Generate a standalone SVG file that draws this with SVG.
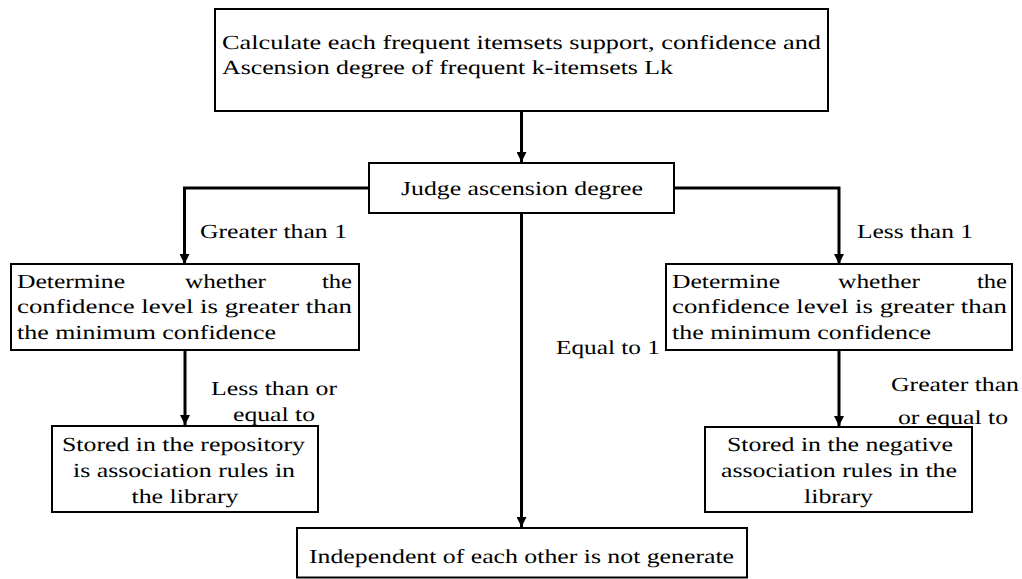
<svg xmlns="http://www.w3.org/2000/svg" width="1022" height="579" viewBox="0 0 1022 579">
<style>
.box{fill:#fff;stroke:#000;stroke-width:2}
.t{font-family:'Liberation Serif','Times New Roman',Times,serif;font-size:20px;fill:#000;text-rendering:geometricPrecision}
.c{fill:none;stroke:#000;stroke-width:3}
</style>
<defs>
<marker id="ah" markerUnits="userSpaceOnUse" markerWidth="12" markerHeight="10" viewBox="0 0 12 10" refX="10" refY="5" orient="auto">
<path d="M0,0 L10,5 L0,10 Z" fill="#000"/>
</marker>
</defs>
<rect width="1022" height="579" fill="#fff"/>
<g id="connectors">
<path class="c" d="M521.5,111 V162" marker-end="url(#ah)"/>
<path class="c" d="M369,188 H184.5 V264" marker-end="url(#ah)"/>
<path class="c" d="M674,188 H839 V264" marker-end="url(#ah)"/>
<path class="c" d="M521.5,213 V527" marker-end="url(#ah)"/>
<path class="c" d="M185,350 V425" marker-end="url(#ah)"/>
<path class="c" d="M839,350 V426" marker-end="url(#ah)"/>
</g>
<g id="labels">
<text class="t" x="200" y="238" textLength="147" lengthAdjust="spacingAndGlyphs">Greater than 1</text>
<text class="t" x="857" y="238" textLength="116" lengthAdjust="spacingAndGlyphs">Less than 1</text>
<text class="t" x="556" y="354" textLength="104" lengthAdjust="spacingAndGlyphs">Equal to 1</text>
<text class="t" x="211" y="395" textLength="126" lengthAdjust="spacingAndGlyphs">Less than or</text>
<text class="t" x="233" y="421" textLength="82" lengthAdjust="spacingAndGlyphs">equal to</text>
<text class="t" x="891" y="391" textLength="128" lengthAdjust="spacingAndGlyphs">Greater than</text>
<text class="t" x="898" y="424" textLength="110" lengthAdjust="spacingAndGlyphs">or equal to</text>
</g>
<g id="n-top">
<rect class="box" x="215" y="9" width="613" height="102"/>
<text class="t" x="222" y="48.5" textLength="599" lengthAdjust="spacingAndGlyphs">Calculate each frequent itemsets support, confidence and</text>
<text class="t" x="222" y="74" textLength="451" lengthAdjust="spacingAndGlyphs">Ascension degree of frequent k-itemsets Lk</text>
</g>
<g id="n-judge">
<rect class="box" x="369" y="163" width="305" height="50"/>
<text class="t" x="401" y="195" textLength="242" lengthAdjust="spacingAndGlyphs">Judge ascension degree</text>
</g>
<g id="n-left">
<rect class="box" x="11" y="264" width="348" height="86"/>
<text class="t" x="17" y="288" textLength="108" lengthAdjust="spacingAndGlyphs">Determine</text>
<text class="t" x="185" y="288" textLength="81" lengthAdjust="spacingAndGlyphs">whether</text>
<text class="t" x="322" y="288" textLength="30" lengthAdjust="spacingAndGlyphs">the</text>
<text class="t" x="17" y="313" textLength="335" lengthAdjust="spacingAndGlyphs">confidence level is greater than</text>
<text class="t" x="17" y="339" textLength="259" lengthAdjust="spacingAndGlyphs">the minimum confidence</text>
</g>
<g id="n-right">
<rect class="box" x="666" y="264" width="346" height="86"/>
<text class="t" x="672" y="288" textLength="108" lengthAdjust="spacingAndGlyphs">Determine</text>
<text class="t" x="838" y="288" textLength="82" lengthAdjust="spacingAndGlyphs">whether</text>
<text class="t" x="977" y="288" textLength="30" lengthAdjust="spacingAndGlyphs">the</text>
<text class="t" x="672" y="313" textLength="335" lengthAdjust="spacingAndGlyphs">confidence level is greater than</text>
<text class="t" x="672" y="339" textLength="259" lengthAdjust="spacingAndGlyphs">the minimum confidence</text>
</g>
<g id="n-positive">
<rect class="box" x="52" y="426" width="266" height="86"/>
<text class="t" x="62" y="451" textLength="243" lengthAdjust="spacingAndGlyphs">Stored in the repository</text>
<text class="t" x="73" y="477" textLength="222" lengthAdjust="spacingAndGlyphs">is association rules in</text>
<text class="t" x="131.5" y="503" textLength="107" lengthAdjust="spacingAndGlyphs">the library</text>
</g>
<g id="n-negative">
<rect class="box" x="705" y="427" width="267" height="85"/>
<text class="t" x="727" y="451" textLength="226" lengthAdjust="spacingAndGlyphs">Stored in the negative</text>
<text class="t" x="721" y="477" textLength="236" lengthAdjust="spacingAndGlyphs">association rules in the</text>
<text class="t" x="804" y="503" textLength="69" lengthAdjust="spacingAndGlyphs">library</text>
</g>
<g id="n-independent">
<rect class="box" x="297" y="528" width="450" height="49.5"/>
<text class="t" x="309" y="563" textLength="425" lengthAdjust="spacingAndGlyphs">Independent of each other is not generate</text>
</g>
</svg>
